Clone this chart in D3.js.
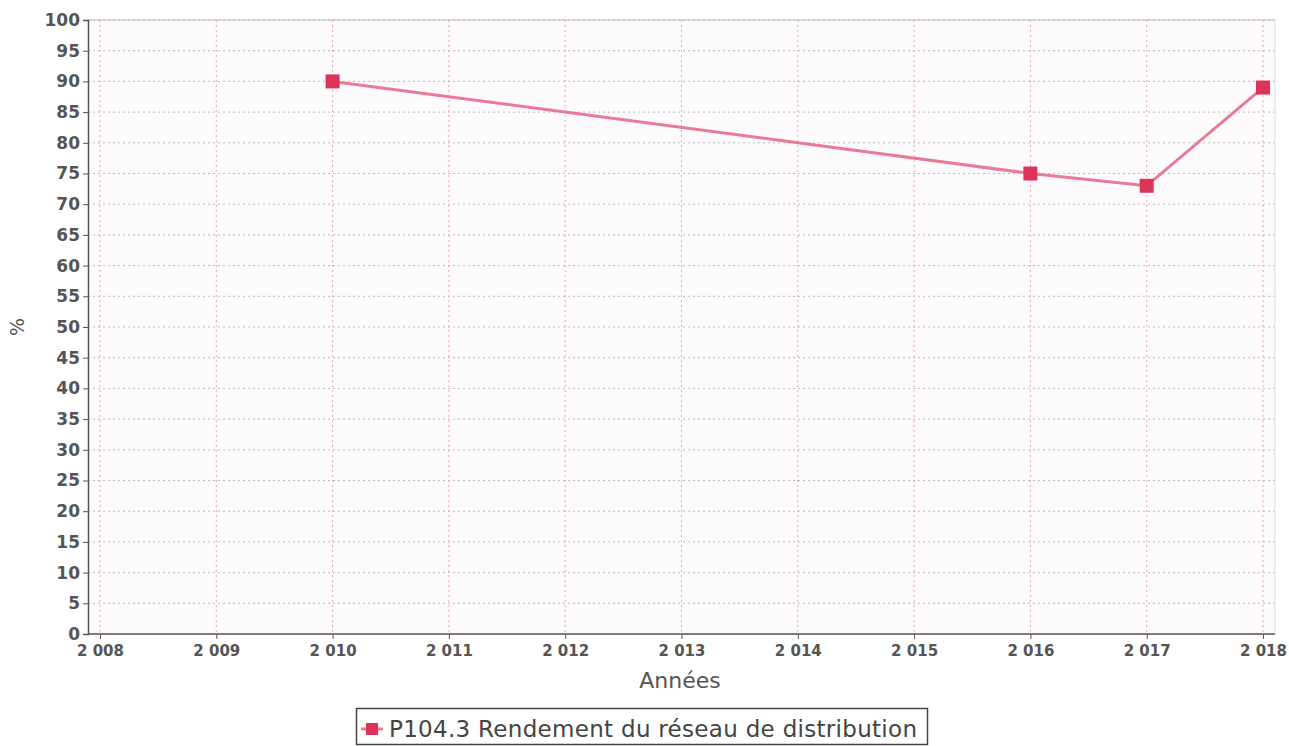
<!DOCTYPE html>
<html><head><meta charset="utf-8">
<script src="https://cdn.jsdelivr.net/npm/d3@7"></script>
<style>body{margin:0;background:#fff;}svg{display:block;font-family:"DejaVu Sans",sans-serif;}</style>
</head><body>
<svg id="c" width="1289" height="746"></svg>
<script>
const years = [2010, 2016, 2017, 2018];
const values = [90, 75, 73, 89];
const xTicks = [2008, 2009, 2010, 2011, 2012, 2013, 2014, 2015, 2016, 2017, 2018];
const yTicks = d3.range(0, 101, 5);
const seriesName = "P104.3 Rendement du réseau de distribution";

const svg = d3.select("#c");
const L = 88, R = 1275, T = 20, B = 634;
const x = d3.scaleLinear().domain([2008, 2018]).range([100, 1263]);
const y = d3.scaleLinear().domain([0, 100]).range([B, T]);

svg.append("rect").attr("x", L).attr("y", T).attr("width", R - L).attr("height", B - T).attr("fill", "#fefbfc");

// horizontal grid
svg.append("g").selectAll("line").data(yTicks.filter(d => d > 0)).join("line")
  .attr("x1", L).attr("x2", R).attr("y1", d => y(d)).attr("y2", d => y(d))
  .attr("stroke", "#bbb").attr("stroke-width", 1).attr("stroke-dasharray", "2,3");
// vertical grid
svg.append("g").selectAll("line").data(xTicks).join("line")
  .attr("x1", d => x(d)).attr("x2", d => x(d)).attr("y1", T).attr("y2", B)
  .attr("stroke", "#eca3b4").attr("stroke-width", 1).attr("stroke-dasharray", "2,3");

// borders
svg.append("line").attr("x1", L).attr("x2", R).attr("y1", T).attr("y2", T).attr("stroke", "#bbb");
svg.append("line").attr("x1", R).attr("x2", R).attr("y1", T).attr("y2", B).attr("stroke", "#ddd");

// axes
const yAxis = d3.axisLeft(y).tickValues(yTicks).tickSize(5).tickPadding(3);
const gy = svg.append("g").attr("transform", `translate(${L},0)`).call(yAxis);
gy.select(".domain").attr("stroke", "#555").attr("stroke-width", 1.5);
gy.selectAll(".tick line").attr("stroke", "#555");
gy.selectAll("text").attr("fill", "#555").style("font-size", "17px").style("font-weight", "bold").style("font-family", "DejaVu Sans");

const xAxis = d3.axisBottom(x).tickValues(xTicks).tickSize(5).tickPadding(6)
  .tickFormat(d => String(d).slice(0,1) + " " + String(d).slice(1));
const gx = svg.append("g").attr("transform", `translate(0,${B})`).call(xAxis);
gx.select(".domain").attr("stroke", "#555").attr("stroke-width", 1.5).attr("d", `M${L},0H${R}`);
gx.selectAll(".tick line").attr("stroke", "#555");
gx.selectAll("text").attr("fill", "#555").style("font-size", "15px").style("font-weight", "bold").style("font-family", "DejaVu Sans");

// axis titles
svg.append("text").attr("transform", "translate(24,327) rotate(-90)").attr("text-anchor", "middle")
  .attr("fill", "#555").attr("font-size", 19).text("%");
svg.append("text").attr("x", 680).attr("y", 688).attr("text-anchor", "middle")
  .attr("fill", "#555").attr("font-size", 22).text("Années");

// line
const data = years.map((yr, i) => ({yr, v: values[i]}));
svg.append("path").datum(data)
  .attr("d", d3.line().x(d => x(d.yr)).y(d => y(d.v)))
  .attr("fill", "none").attr("stroke", "#ea7a95").attr("stroke-width", 3);
svg.append("g").selectAll("rect").data(data).join("rect")
  .attr("x", d => x(d.yr) - 7).attr("y", d => y(d.v) - 7).attr("width", 14).attr("height", 14)
  .attr("fill", "#dc3458");

// legend
const lg = svg.append("g");
lg.append("rect").attr("x", 356.5).attr("y", 708.5).attr("width", 571).attr("height", 36)
  .attr("fill", "#fff").attr("stroke", "#444").attr("stroke-width", 1.5);
lg.append("line").attr("x1", 361).attr("x2", 383).attr("y1", 729).attr("y2", 729).attr("stroke", "#ea7a95").attr("stroke-width", 3);
lg.append("rect").attr("x", 366).attr("y", 723).attr("width", 12).attr("height", 12).attr("fill", "#dc3458");
lg.append("text").attr("x", 389).attr("y", 737).attr("fill", "#444").attr("font-size", 23)
  .attr("textLength", 528).attr("lengthAdjust", "spacing").text(seriesName);
</script>
</body></html>
